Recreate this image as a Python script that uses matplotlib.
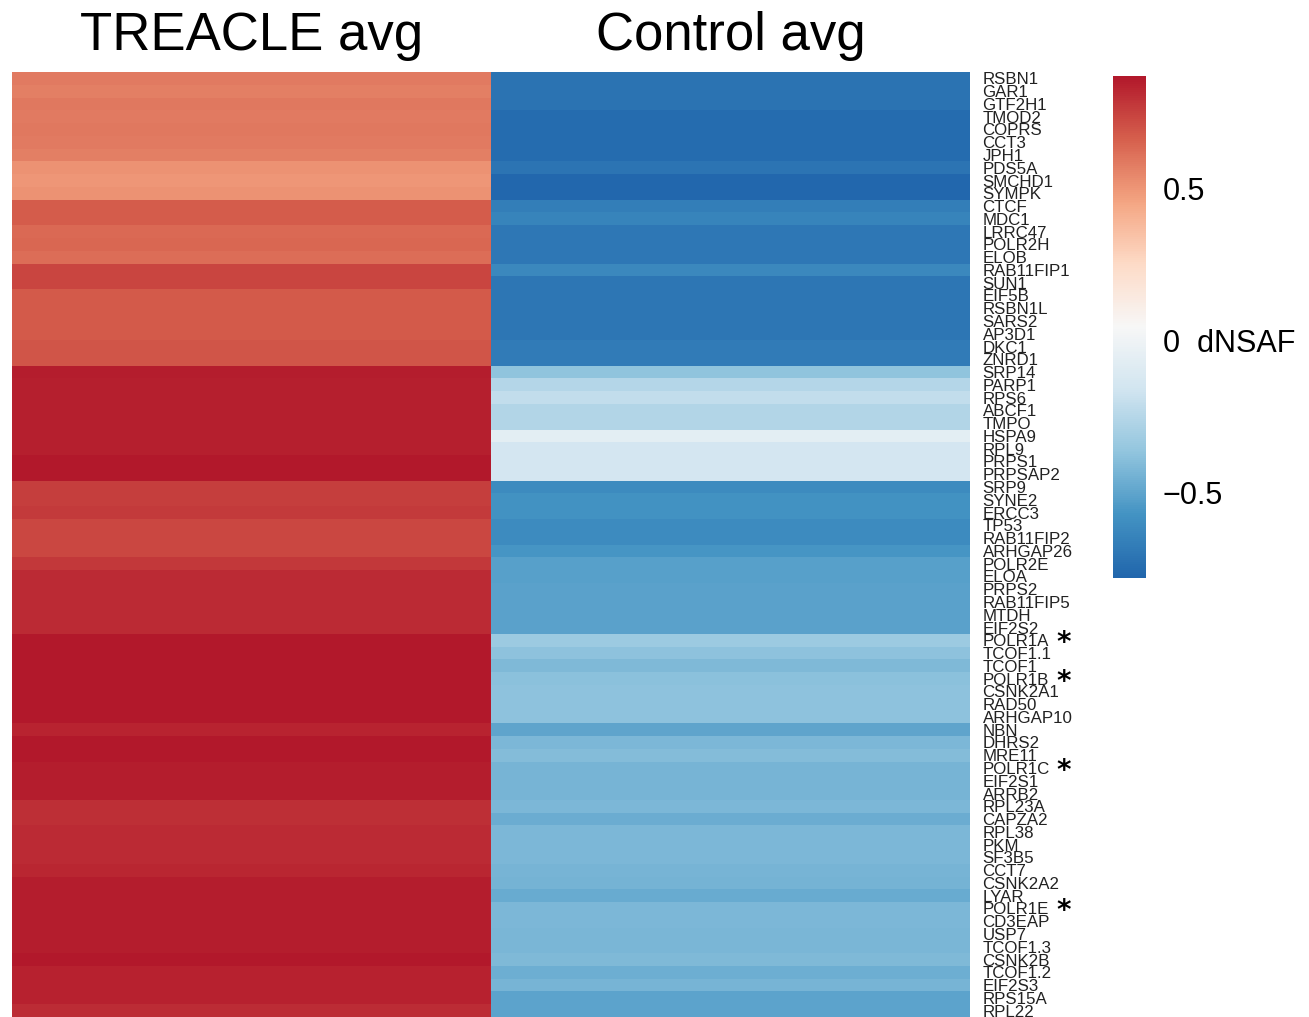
import numpy as np
import matplotlib
matplotlib.use("Agg")
import matplotlib.pyplot as plt
from matplotlib.colors import LinearSegmentedColormap
from matplotlib import font_manager

genes = ["RSBN1", "GAR1", "GTF2H1", "TMOD2", "COPRS", "CCT3", "JPH1", "PDS5A",
         "SMCHD1", "SYMPK", "CTCF", "MDC1", "LRRC47", "POLR2H", "ELOB",
         "RAB11FIP1", "SUN1", "EIF5B", "RSBN1L", "SARS2", "AP3D1", "DKC1",
         "ZNRD1", "SRP14", "PARP1", "RPS6", "ABCF1", "TMPO", "HSPA9", "RPL9",
         "PRPS1", "PRPSAP2", "SRP9", "SYNE2", "ERCC3", "TP53", "RAB11FIP2",
         "ARHGAP26", "POLR2E", "ELOA", "PRPS2", "RAB11FIP5", "MTDH", "EIF2S2",
         "POLR1A", "TCOF1.1", "TCOF1", "POLR1B", "CSNK2A1", "RAD50", "ARHGAP10",
         "NBN", "DHRS2", "MRE11", "POLR1C", "EIF2S1", "ARRB2", "RPL23A",
         "CAPZA2", "RPL38", "PKM", "SF3B5", "CCT7", "CSNK2A2", "LYAR", "POLR1E",
         "CD3EAP", "USP7", "TCOF1.3", "CSNK2B", "TCOF1.2", "EIF2S3", "RPS15A",
         "RPL22"]
starred = ["POLR1A", "POLR1B", "POLR1C", "POLR1E"]
columns = ["TREACLE avg", "Control avg"]

treacle = [0.58, 0.57, 0.59, 0.58, 0.59, 0.58, 0.57, 0.51, 0.50, 0.51,
           0.675, 0.675, 0.635, 0.64, 0.625, 0.735, 0.735, 0.68, 0.68, 0.68,
           0.68, 0.69, 0.69, 0.855, 0.845, 0.85, 0.85, 0.85, 0.85, 0.85,
           0.865, 0.865, 0.756, 0.756, 0.773, 0.73, 0.73, 0.73, 0.775, 0.812,
           0.812, 0.812, 0.812, 0.812, 0.87, 0.87, 0.87, 0.87, 0.87, 0.87,
           0.87, 0.832, 0.87, 0.87, 0.855, 0.855, 0.855, 0.804, 0.804, 0.818,
           0.818, 0.818, 0.83, 0.855, 0.855, 0.855, 0.855, 0.855, 0.855, 0.87,
           0.838, 0.838, 0.838, 0.81]
control = [-0.72, -0.72, -0.72, -0.75, -0.75, -0.75, -0.75, -0.71,
           -0.77, -0.77, -0.67, -0.64, -0.70, -0.70, -0.70, -0.62,
           -0.705, -0.705, -0.705, -0.705, -0.705, -0.68, -0.68, -0.37,
           -0.254, -0.207, -0.26, -0.26, -0.064, -0.145, -0.145, -0.145,
           -0.61, -0.58, -0.58, -0.61, -0.61, -0.565, -0.52, -0.52,
           -0.513, -0.513, -0.513, -0.513, -0.331, -0.378, -0.417, -0.386,
           -0.378, -0.378, -0.378, -0.50, -0.42, -0.404, -0.435, -0.435,
           -0.435, -0.425, -0.467, -0.423, -0.423, -0.423, -0.435, -0.443,
           -0.477, -0.423, -0.423, -0.428, -0.428, -0.415, -0.462, -0.433,
           -0.504, -0.504]

cbar_ticks = [0.5, 0, -0.5]
cbar_labels = ["0.5", "0  dNSAF", "\u22120.5"]

# brewer RdBu (9), reversed
rdbu9 = ["#2166AC", "#4393C3", "#92C5DE", "#D1E5F0", "#F7F7F7",
         "#FDDBC7", "#F4A582", "#D6604D", "#B2182B"]
cmap = LinearSegmentedColormap.from_list("rdbu9", rdbu9, N=256)

names = [f.name for f in font_manager.fontManager.ttflist]
narrow = "Liberation Sans Narrow" if "Liberation Sans Narrow" in names else "Liberation Sans"
plt.rcParams["font.family"] = [narrow, "DejaVu Sans"]

data = np.array([treacle, control]).T

fig = plt.figure(figsize=(13.09, 10.17), dpi=100)
ax = fig.add_axes([12 / 1309, 0, 958 / 1309, 945 / 1017])
mesh = ax.pcolormesh(data, cmap=cmap, vmin=-0.78, vmax=0.87)
ax.set_xlim(0, 2)
ax.set_ylim(len(genes), 0)
for s in ax.spines.values():
    s.set_visible(False)

ax.set_xticks(np.arange(2) + 0.5)
ax.set_xticklabels(columns, fontsize=38)
ax.xaxis.tick_top()
ax.tick_params(axis="x", length=0, pad=8)

ax.yaxis.tick_right()
ax.set_yticks(np.arange(len(genes)) + 0.5)
ax.set_yticklabels(genes, fontsize=12.2, color="#222222")
ax.tick_params(axis="y", length=0, pad=9)

# asterisks next to the Pol I subunits
for i, g in enumerate(genes):
    if g in starred:
        ax.annotate("*", xy=(1, i + 0.5), xycoords=("axes fraction", "data"),
                    xytext=(94, -3), textcoords="offset pixels",
                    ha="center", va="center", fontsize=20, fontweight="bold",
                    family="DejaVu Sans")

cax = fig.add_axes([1113 / 1309, 1 - 578 / 1017, 33 / 1309, 502 / 1017])
cb = fig.colorbar(mesh, cax=cax)
cb.outline.set_visible(False)
cb.set_ticks(cbar_ticks)
cb.set_ticklabels(cbar_labels)
cax.tick_params(length=0, labelsize=22, pad=12)

fig.savefig("out.png", dpi=100)
